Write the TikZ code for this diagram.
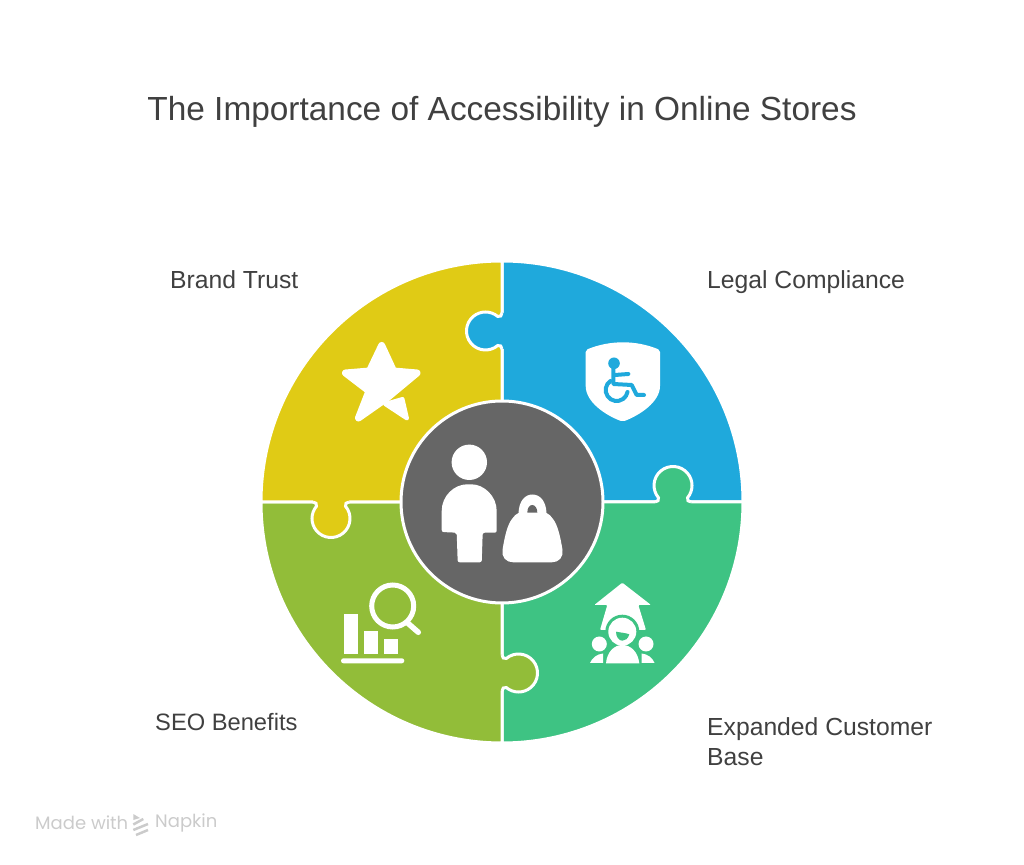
\documentclass[tikz,border=0pt]{standalone}
\usepackage{fontspec}
\setmainfont{Liberation Sans}
\newfontfamily\footfont{Poppins}
\definecolor{legalblue}{HTML}{1FA9DC}
\definecolor{basegreen}{HTML}{3EC383}
\definecolor{seoolive}{HTML}{92BD39}
\definecolor{brandyellow}{HTML}{E0CB15}
\definecolor{hubgrey}{HTML}{666666}
\definecolor{inktext}{HTML}{404040}
\definecolor{footgrey}{HTML}{CBCBCB}
\tikzset{
  titletext/.style={text=inktext,font=\fontsize{33.4}{38}\selectfont},
  labeltext/.style={text=inktext,anchor=base west,align=left,inner sep=0pt,font=\fontsize{24.7}{30}\selectfont},
  foottext/.style={text=footgrey,anchor=west,inner sep=0pt,font=\footfont\fontsize{18}{22}\selectfont},
  seam/.style={draw=white,line width=3},
  icon/.style={fill=white,rounded corners=2}
}
\newcommand{\knobedge}{(0,153) .. controls (0,155.5) and (-2,157.3) .. (-4.3,156.45) arc (310:50:19) .. controls (-2,184.7) and (0,186.5) .. (0,189)}
\begin{document}
\begin{tikzpicture}[x=1pt,y=1pt]
\useasboundingbox (0,0) rectangle (1024,864);
% texts
\node[titletext] (title) at (502,752) {The Importance of Accessibility in Online Stores};
\node[labeltext] (brand) at (170,575) {Brand Trust};
\node[labeltext] (legal) at (707,575) {Legal Compliance};
\node[labeltext,font=\fontsize{23.7}{30}\selectfont] (seo) at (155,133) {SEO Benefits};
\node[labeltext,anchor=west] (base) at (707,122) {Expanded Customer\\Base};
\node[foottext] (made) at (35,41) {Made with};
\node[foottext] (napkin) at (155,41) {Napkin};
% quarters
\foreach \ang/\col in {0/legalblue,-90/basegreen,-180/seoolive,-270/brandyellow} {
  \filldraw[seam,fill=\col,shift={(502,362)},rotate=\ang] (0,0) -- (0,241) arc (90:0:241) -- cycle;
}
% knobs
\foreach \ang/\col in {0/legalblue,-90/basegreen,-180/seoolive,-270/brandyellow} {
  \begin{scope}[shift={(502,362)},rotate=\ang]
    \fill[\col] (4,153) -- \knobedge -- (4,189) -- cycle;
    \draw[seam] \knobedge;
  \end{scope}
}
\filldraw[seam,fill=hubgrey] (502,362) circle (101);
% person and bag
\fill[white] (469.3,401.7) circle (17.7);
\fill[icon] (441.7,332) -- (441.7,351) .. controls (441.7,368) and (454,379.7) .. (469.3,379.7) .. controls (484,379.7) and (496.7,368) .. (496.7,351) -- (496.7,331.3) -- (482.7,331.3) -- (481.7,301.7) -- (457.7,301.7) -- (456.7,331.3) -- cycle;
\fill[white] (502.5,314) .. controls (505,330) and (508,340) .. (512,345) .. controls (514,348) and (516,350) .. (518.5,351) .. controls (519,363) and (525,369.5) .. (532.3,369.5) .. controls (540,369.5) and (546,363) .. (546.5,351) .. controls (549,350) and (551,348) .. (553,345) .. controls (557,340) and (560,330) .. (562.5,314) .. controls (563.5,307) and (559,301.7) .. (552,301.7) -- (513,301.7) .. controls (506,301.7) and (501.5,307) .. (502.5,314) -- cycle;
\fill[hubgrey] (527.3,351.3) .. controls (527.3,356) and (529.5,359) .. (532.3,359) .. controls (535,359) and (537.3,356) .. (537.3,351.3) -- cycle;
% star
\filldraw[draw=white,fill=white,line width=7,line join=round] (381.7,518.5) -- (393.5,493) -- (417,491) -- (387,466) -- (358.5,446) -- (369,473) -- (345.5,491) -- (369.5,493) -- cycle;
\filldraw[draw=white,fill=white,line width=4,line join=round] (385,460) -- (402.5,465) -- (407,445.5) -- cycle;
% shield
\fill[icon] (585.7,514) .. controls (610,524) and (636,524) .. (660,514) -- (660,480) .. controls (660,462) and (640,449) .. (622.7,442.3) .. controls (605,449) and (585.7,462) .. (585.7,480) -- cycle;
\fill[legalblue] (614,500.7) circle (5.8);
\draw[legalblue,line width=4,line cap=round,line join=round] (613.3,498) -- (613.3,480) -- (631.7,479) -- (636.7,469) -- (644,469);
\draw[legalblue,line width=4,line cap=round] (615,489) -- (628.3,490);
\draw[legalblue,line width=4,line cap=round] (616.7,474) ++(125:11) arc (125:350:11);
% chart and lens
\fill[white] (344.3,209.7) rectangle (357.7,249.7);
\fill[white] (364.3,209.7) rectangle (377.7,233);
\fill[white] (384.3,209.7) rectangle (397.7,225);
\fill[white,rounded corners=2.4] (341,200.7) rectangle (404.3,205.7);
\draw[white,line width=5] (392.7,258) circle (21);
\draw[white,line width=5.5,line cap=round] (407.3,241.3) -- (418.3,231.7);
% arrow and people
\fill[white,rounded corners=1] (622.3,281.3) -- (651,259) -- (638.3,259) -- (646,234) -- (600,234) -- (607.3,259) -- (594.3,259) -- cycle;
\fill[basegreen] (622.3,232.3) circle (17);
\fill[white] (622.3,232.3) circle (14);
\fill[basegreen] (616,232.3) .. controls (620,231.5) and (626,231) .. (629.3,229.7) .. controls (628,225) and (625,223.3) .. (622.3,223.3) .. controls (619,223.3) and (616,227) .. (616,232.3) -- cycle;
\fill[white] (606,200.7) .. controls (607,212) and (614,219) .. (622.3,219) .. controls (631,219) and (638,212) .. (639.3,200.7) -- cycle;
\fill[white] (599.3,220) circle (7.5);
\fill[white] (646,220) circle (7.5);
\fill[white] (590,201) .. controls (592,206) and (597,210) .. (603,210.5) -- (603,201) -- cycle;
\fill[white] (654.6,201) .. controls (652.6,206) and (647.6,210) .. (641.6,210.5) -- (641.6,201) -- cycle;
% footer mark
\fill[footgrey] (133.3,50) -- (140,46) -- (133.3,44) -- cycle;
\draw[footgrey,line width=2.5] (133.3,39.5) -- (143.3,45);
\draw[footgrey,line width=2.5] (133.3,34) -- (148,40);
\draw[footgrey,line width=2.5] (136,29) -- (148,34);
\end{tikzpicture}
\end{document}
